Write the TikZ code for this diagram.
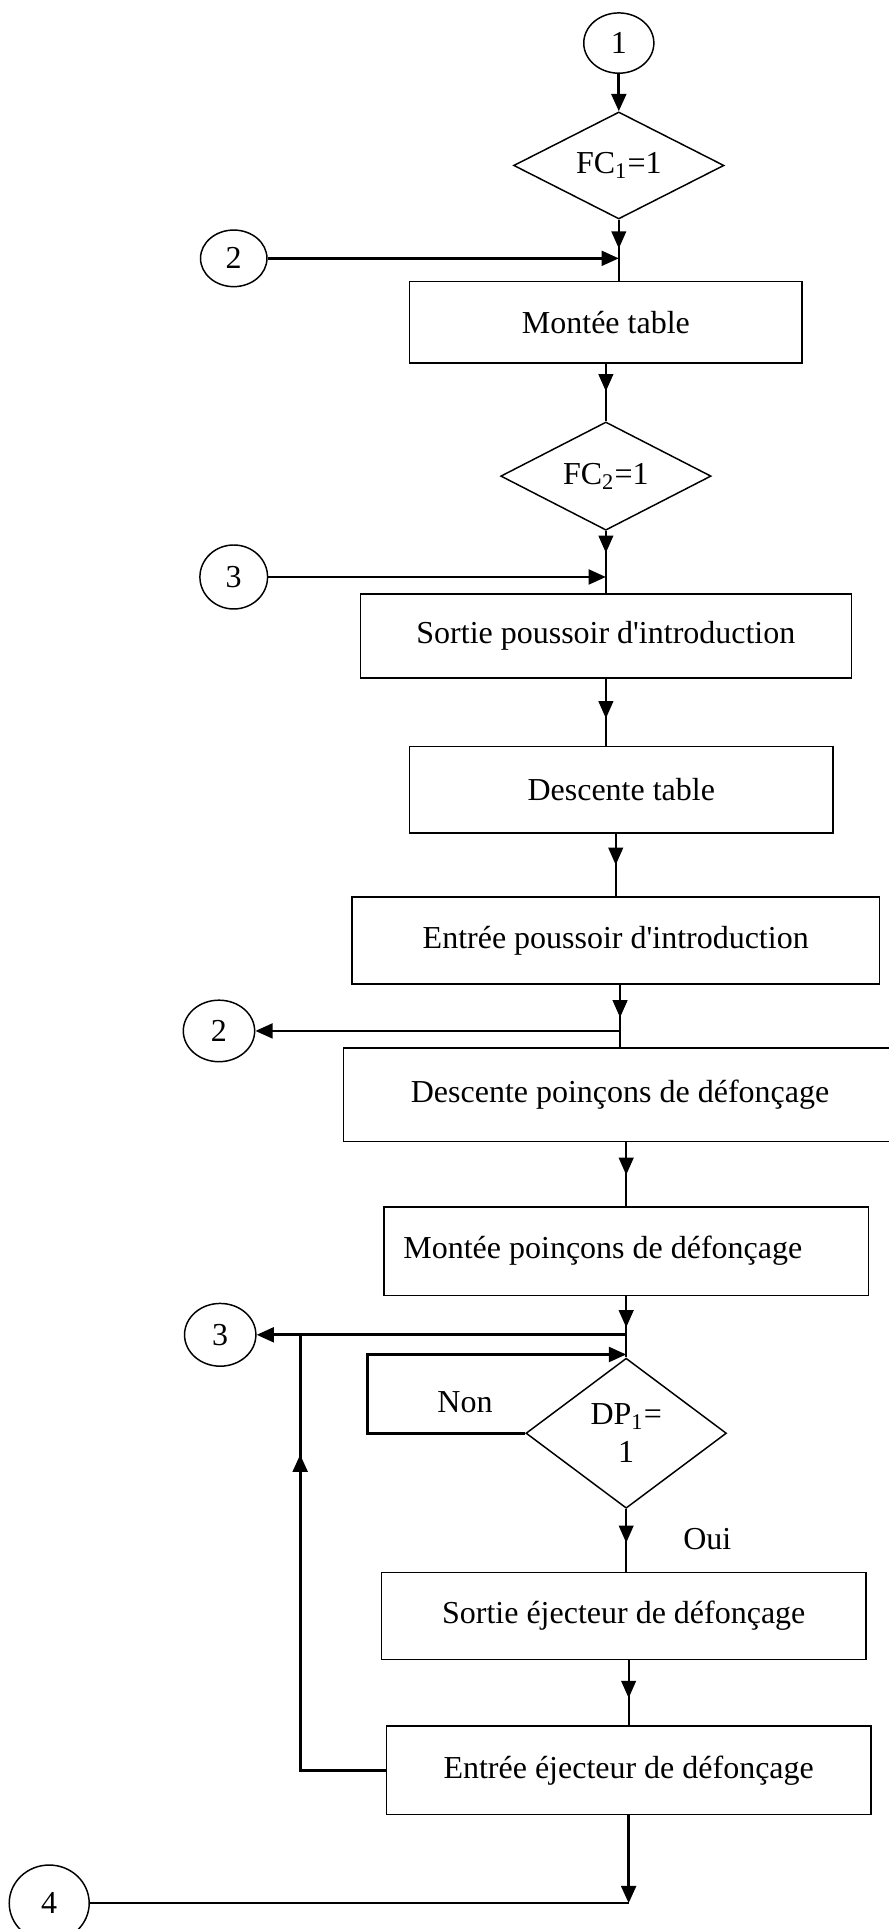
\documentclass[tikz,border=0pt]{standalone}
\usepackage{fontspec}
\setmainfont{Liberation Serif}
\usetikzlibrary{shapes.geometric,arrows.meta,positioning,decorations.markings}

\tikzset{
  etape/.style={draw, rectangle, line width=0.6pt, inner sep=0pt},
  choix/.style={draw, diamond, aspect=2, line width=0.6pt, inner sep=0pt, align=center},
  renvoi/.style={draw, ellipse, line width=0.6pt, inner sep=0pt},
  lien/.style={line width=0.7pt},
  lienfort/.style={line width=1.1pt},
  fleche/.style={postaction={decorate}, decoration={markings, mark=at position #1 with {\arrow{Triangle[length=7pt,width=6pt]}}}}
}

\begin{document}
\begin{tikzpicture}[x=0.5pt, y=-0.5pt, >={Triangle[length=7pt,width=6pt]}, on grid, font={\fontsize{13}{15.6}\selectfont}]
  \useasboundingbox (0,0) rectangle (722,1568);
  % colonne principale
  \node[renvoi, minimum width=28.5pt, minimum height=24.5pt] (c1) at (503,35) {1};
  \node[choix, minimum width=85.5pt, minimum height=43.5pt]  (fc1) [below=49.75pt of c1] {FC\textsubscript{1}=1};
  \node[etape, minimum width=159.5pt, minimum height=33pt]   (mt)  [below=63.75pt of fc1, xshift=-5.25pt] {Montée table};
  \node[choix, minimum width=85.5pt, minimum height=44pt]    (fc2) [below=62.5pt of mt] {FC\textsubscript{2}=1};
  \node[etape, minimum width=199.5pt, minimum height=34pt]   (spi) [below=65pt of fc2] {Sortie poussoir d\textquotesingle introduction};
  \node[etape, minimum width=172pt, minimum height=35pt]     (dt)  [below=62.5pt of spi, xshift=6.25pt] {Descente table};
  \node[etape, minimum width=214.5pt, minimum height=35.5pt] (ep)  [below=61.25pt of dt, xshift=-2.25pt] {Entrée poussoir d\textquotesingle introduction};
  \node[etape, minimum width=225pt, minimum height=38pt]     (dpd) [below=62.75pt of ep, xshift=1.75pt] {Descente poinçons de défonçage};
  \node[etape, minimum width=197pt, minimum height=36pt]     (mpd) [below=63.5pt of dpd, xshift=2.5pt] {Montée poinçons de défonçage\kern19pt};
  \node[choix, minimum width=81.5pt, minimum height=61pt]    (dp1) [below=74pt of mpd] {DP\textsubscript{1}=\\1};
  \node[etape, minimum width=197pt, minimum height=35.5pt]   (sej) [below=74.25pt of dp1, xshift=-1pt] {Sortie éjecteur de défonçage};
  \node[etape, minimum width=197pt, minimum height=36pt]     (eej) [below=62.75pt of sej, xshift=2pt] {Entrée éjecteur de défonçage};
  % renvois
  \node[renvoi, minimum width=27pt, minimum height=23pt]     (c2a) at (190,210) {2};
  \node[renvoi, minimum width=27.5pt, minimum height=26pt]   (c3a) at (190,469) {3};
  \node[renvoi, minimum width=29pt, minimum height=25pt]     (c2b) at (178,838) {2};
  \node[renvoi, minimum width=29pt, minimum height=25.5pt]   (c3b) at (179,1085) {3};
  \node[renvoi, minimum width=32.5pt, minimum height=31pt]   (c4)  at (40,1547) {4};
  \node (non) at (378,1140) {Non};
  \node (oui) at (575,1251) {Oui};
  \coordinate (nonc)   at (299,1101);
  \coordinate (retour) at (244,1085);
  \coordinate (j2)  at (dpd.north |- c2b);
  \coordinate (j3)  at (mpd.south |- c3b);
  \coordinate (fin) at (eej.south |- c4);
  % liaisons
  \draw[lienfort, ->] (c1) -- (fc1);
  \draw[lien, fleche=0.47] (fc1.south) -- (fc1.south |- mt.north);
  \draw[lienfort, ->] (c2a) -- (c2a -| fc1.south);
  \draw[lien, fleche=0.48] (mt) -- (fc2);
  \draw[lien, fleche=0.35] (fc2) -- (spi);
  \draw[lienfort, ->] (c3a) -- (c3a -| fc2.south);
  \draw[lien, fleche=0.59] (spi.south) -- (spi.south |- dt.north);
  \draw[lien, fleche=0.5] (ep.north |- dt.south) -- (ep.north);
  \draw[lien, fleche=0.52] (dpd.north |- ep.south) -- (dpd.north);
  \draw[lienfort, ->] (j2) -- (c2b);
  \draw[lien, fleche=0.51] (mpd.north |- dpd.south) -- (mpd.north);
  \draw[lien, fleche=0.51] (mpd) -- (dp1);
  \draw[lienfort, ->] (j3) -- (c3b);
  \draw[lienfort, ->] (dp1.west) -| (nonc) -- (nonc -| dp1.north);
  \draw[lien, fleche=0.54] (dp1.south) -- (dp1.south |- sej.north);
  \draw[lien, fleche=0.58] (eej.north |- sej.south) -- (eej.north);
  \draw[lienfort, fleche=0.77] (eej.west) -| (retour);
  \draw[lienfort, ->] (eej.south) -- (fin);
  \draw[lien] (c4) -- (fin);
\end{tikzpicture}
\end{document}
